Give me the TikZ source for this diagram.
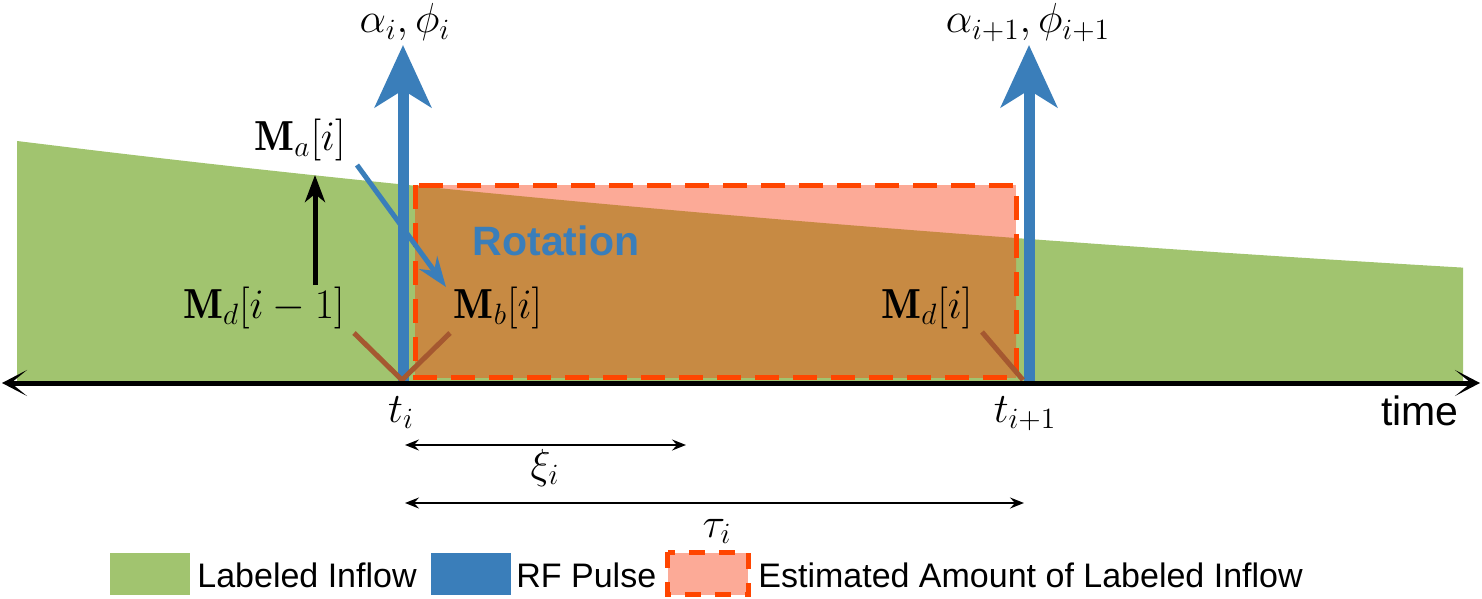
\RequirePackage{fix-cm}
\documentclass[tikz,border=0pt]{standalone}
\usepackage{fontspec}
\newfontfamily\arial{Liberation Sans}
\usetikzlibrary{arrows.meta}
\definecolor{inflow}{RGB}{161,196,111}
\definecolor{rfblue}{RGB}{58,126,186}
\definecolor{estpink}{RGB}{252,170,151}
\definecolor{estbrown}{RGB}{199,138,67}
\definecolor{vbrown}{RGB}{165,88,48}
\definecolor{estred}{RGB}{255,69,0}
\tikzset{
  mathlbl/.style={inner sep=0pt, anchor=base, font=\fontsize{21}{25}\selectfont},
  sanslbl/.style={inner sep=0pt, anchor=base, font=\arial\fontsize{20.5}{24}\selectfont},
  leglbl/.style={inner sep=0pt, anchor=base west, font=\arial\fontsize{17}{20}\selectfont},
  legbox/.style={inner sep=0pt, minimum width=40pt, minimum height=21pt},
  pulse/.style={draw=rfblue, line width=5.5pt, -{Stealth[length=31pt,width=28pt,inset=8.5pt]}},
  axisline/.style={draw=black, line width=2.5pt, {Stealth[length=12.5pt,width=13pt,inset=8pt]}-{Stealth[length=12.5pt,width=13pt,inset=8pt]}},
  spanarrow/.style={draw=black, line width=1pt, {Stealth[length=7pt,width=5.5pt,inset=2.5pt]}-{Stealth[length=7pt,width=5.5pt,inset=2.5pt]}},
  estborder/.style={draw=estred, line width=2.5pt, dash pattern=on 12pt off 7pt},
  vline/.style={draw=vbrown, line width=2.5pt},
}
\begin{document}
\begin{tikzpicture}[x={(0.5pt,0)}, y={(0,-0.5pt)}]
\useasboundingbox (0,0) rectangle (1482,599);
% labeled inflow
\fill[inflow] (17,381) -- plot[domain=17:1463, samples=80] (\x,{381-240*exp(-0.000512*(\x-17))}) -- (1463,381) -- cycle;
% estimated amount
\fill[estpink] (415,185) rectangle (1016,377);
\begin{scope}
  \clip (415,185) rectangle (1016,377);
  \fill[estbrown] (405,381) -- plot[domain=405:1030, samples=40] (\x,{381-240*exp(-0.000512*(\x-17))}) -- (1030,381) -- cycle;
\end{scope}
\draw[estborder] (415,185) rectangle (1016,377);
% coordinates
\coordinate (p1b) at (403,381);
\coordinate (p1t) at (403,45);
\coordinate (p2b) at (1029,381);
\coordinate (p2t) at (1029,45);
\coordinate (axl) at (2,383);
\coordinate (axr) at (1480,383);
% pulses
\draw[pulse] (p1b) -- (p1t);
\draw[pulse] (p2b) -- (p2t);
% V lines
\coordinate (v1) at (402,380);
\coordinate (v1l) at (354,333);
\coordinate (v1r) at (450,333);
\coordinate (v2) at (1023,380);
\coordinate (v2l) at (982,332);
\draw[vline] (v1l) -- (v1) -- (v1r);
\draw[vline] (v2l) -- (v2);
% axis
\draw[axisline] (axl) -- (axr);
% labels
\node[mathlbl] (a1) at (405,33) {$\alpha_i,\phi_i$};
\node[mathlbl] (a2) at (1028,33) {$\alpha_{i+1},\phi_{i+1}$};
\node[mathlbl] (ma) at (300,150) {$\mathbf{M}_a[i]$};
\node[mathlbl] (mdp) at (264,318) {$\mathbf{M}_d[i-1]$};
\node[mathlbl] (mb) at (498,318) {$\mathbf{M}_b[i]$};
\node[mathlbl] (md) at (927,318) {$\mathbf{M}_d[i]$};
\node[mathlbl] (ti) at (401,422) {$t_i$};
\node[mathlbl] (tip) at (1025,422) {$t_{i+1}$};
\node[sanslbl] (time) at (1420,425) {time};
\node[sanslbl, text=rfblue, font=\arial\bfseries\fontsize{20.5}{24}\selectfont] (rot) at (556,255) {Rotation};
% M arrows
\coordinate (upb) at (315,285);
\coordinate (upt) at (315,175);
\draw[line width=2.5pt, -{Stealth[length=13.5pt,width=10pt,inset=4pt]}] (upb) -- (upt);
\coordinate (rots) at (357,165);
\coordinate (rote) at (446,287);
\draw[draw=rfblue, line width=2.5pt, -{Stealth[length=15pt,width=11pt,inset=5pt]}] (rots) -- (rote);
% spans
\coordinate (xs) at (405,445);
\coordinate (xe) at (686,445);
\coordinate (ts) at (405,503);
\coordinate (te) at (1024,503);
\draw[spanarrow] (xs) -- (xe);
\draw[spanarrow] (ts) -- (te);
\node[mathlbl] (xi) at (545,478) {$\xi_i$};
\node[mathlbl] (tau) at (717,537) {$\tau_i$};
% legend
\node[legbox, fill=inflow] (lg1) at (150,574) {};
\node[leglbl] (lt1) at (197,587) {Labeled Inflow};
\node[legbox, fill=rfblue] (lg2) at (470.5,574) {};
\node[legbox, fill=estpink] (lg3) at (708,573.5) {};
\draw[estred, line width=2.5pt, dash pattern=on 8pt off 7pt] (lg3.north west) rectangle (lg3.south east);
\node[leglbl] (lt2) at (516,587) {RF Pulse};
\node[leglbl] (lt3) at (758,587) {Estimated Amount of Labeled Inflow};
\end{tikzpicture}
\end{document}
